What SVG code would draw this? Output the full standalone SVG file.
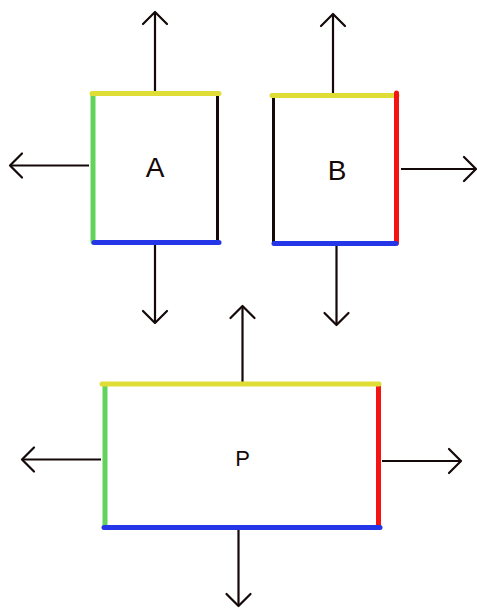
<svg xmlns="http://www.w3.org/2000/svg" width="477" height="609" viewBox="0 0 477 609">
<style>
.bg{fill:#ffffff}
.edge{stroke-width:5;stroke-linecap:round;fill:none}
.y{stroke:#e0dd36}
.g{stroke:#62d45c}
.b{stroke:#2436e8}
.r{stroke:#f41414}
.k{stroke:#140808;stroke-width:3}
.arr{stroke:#140808;stroke-width:2.2;fill:none;marker-end:url(#head)}
.lbl{font-family:"Liberation Sans",Arial,sans-serif;fill:#140808;text-anchor:middle}
</style>
<defs>
<marker id="head" markerUnits="userSpaceOnUse" viewBox="-15 -15 30 30" markerWidth="30" markerHeight="30" refX="0" refY="0" orient="auto" overflow="visible">
<path d="M-12,-12 L0,0 L-12,12" fill="none" stroke="#140808" stroke-width="2.2" stroke-linecap="round" stroke-linejoin="round"/>
</marker>
</defs>
<rect class="bg" width="477" height="609"/>
<g id="connectors">
<line class="arr" x1="155" y1="93" x2="155" y2="12"/>
<line class="arr" x1="89" y1="165.5" x2="10" y2="165.5"/>
<line class="arr" x1="155" y1="244" x2="155" y2="323"/>
<line class="arr" x1="333" y1="94" x2="333" y2="14"/>
<line class="arr" x1="401" y1="169" x2="476" y2="169"/>
<line class="arr" x1="336.5" y1="245" x2="336.5" y2="325"/>
<line class="arr" x1="242.5" y1="383" x2="242.5" y2="306"/>
<line class="arr" x1="101" y1="459.5" x2="22" y2="459.5"/>
<line class="arr" x1="382" y1="461" x2="461" y2="461"/>
<line class="arr" x1="238.5" y1="529" x2="238.5" y2="606"/>
</g>
<g id="node-A">
<line class="edge k" x1="217.5" y1="94" x2="217.5" y2="242"/>
<line class="edge g" x1="93" y1="94" x2="93" y2="242"/>
<line class="edge y" x1="92" y1="93.5" x2="219" y2="93.5"/>
<line class="edge b" x1="94" y1="242.5" x2="219" y2="242.5"/>
<text class="lbl" x="155" y="177" font-size="28">A</text>
</g>
<g id="node-B">
<line class="edge k" x1="273.5" y1="96" x2="273.5" y2="243"/>
<line class="edge y" x1="272" y1="95.5" x2="397" y2="95.5"/>
<line class="edge r" x1="396.5" y1="93" x2="396.5" y2="243"/>
<line class="edge b" x1="274" y1="243.5" x2="396" y2="243.5"/>
<text class="lbl" x="337" y="180" font-size="28">B</text>
</g>
<g id="node-P">
<line class="edge g" x1="105" y1="385" x2="105" y2="526"/>
<line class="edge r" x1="378.5" y1="385" x2="378.5" y2="527"/>
<line class="edge y" x1="102" y1="384" x2="379" y2="384"/>
<line class="edge b" x1="104" y1="527.5" x2="380" y2="527.5"/>
<text class="lbl" x="242.5" y="466" font-size="22">P</text>
</g>
</svg>
